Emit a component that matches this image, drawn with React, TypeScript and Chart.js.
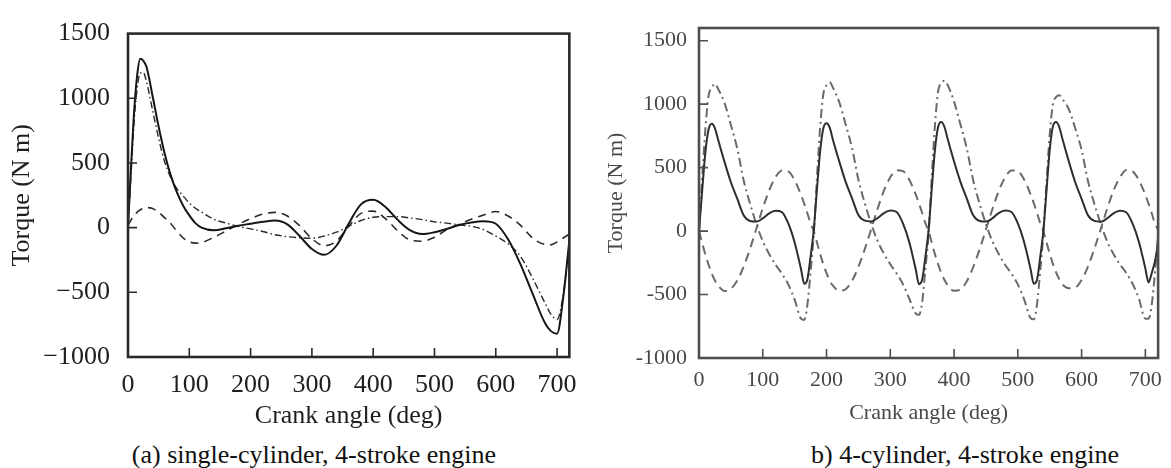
import React, { useEffect, useRef } from "react";
import { Chart, registerables } from "chart.js";

Chart.register(...registerables);

// ---------- shared ----------
const X_TICKS = [0, 100, 200, 300, 400, 500, 600, 700];
const Y_TICKS = [-1000, -500, 0, 500, 1000, 1500];
const X_TITLE = "Crank angle (deg)";
const Y_TITLE = "Torque (N m)";
const CAPTION_A = "(a) single-cylinder, 4-stroke engine";
const CAPTION_B = "b) 4-cylinder, 4-stroke engine";

// ---------- (a) single-cylinder ----------
const LEFT_ANGLES = [0, 5, 10, 15, 20, 25, 30, 40, 50, 60, 70, 80, 90, 100, 110, 120, 140, 160, 180, 200, 220, 240, 260, 280, 300, 320, 340, 360, 380, 400, 420, 440, 460, 480, 500, 520, 540, 560, 580, 600, 620, 640, 660, 680, 690, 700, 710, 720];
const LEFT_TOTAL = [10, 470, 900, 1180, 1305, 1290, 1245, 1020, 780, 570, 400, 270, 170, 95, 35, 0, -20, -5, 15, 30, 45, 55, 25, -65, -165, -210, -140, 30, 180, 215, 160, 60, -20, -50, -35, -10, 20, 40, 50, 30, -90, -280, -510, -735, -800, -820, -540, -100];
const LEFT_GAS = [0, 420, 820, 1080, 1195, 1200, 1130, 910, 690, 505, 385, 300, 245, 190, 150, 120, 65, 35, 10, -10, -30, -55, -70, -78, -82, -65, -35, 10, 55, 80, 85, 85, 75, 62, 45, 35, 22, 10, -15, -65, -125, -220, -390, -580, -670, -710, -520, -120];
const LEFT_INERTIA = [20, 60, 95, 120, 138, 150, 155, 148, 120, 75, 30, -30, -80, -110, -120, -115, -75, -25, 25, 70, 105, 118, 90, 15, -85, -140, -105, 10, 110, 128, 70, -25, -95, -105, -75, -15, 25, 65, 98, 125, 90, 20, -80, -130, -133, -110, -80, -50];

// ---------- (b) 4-cylinder ----------
const RIGHT_ANGLES = [
  0, 5, 10, 15, 20, 25, 30, 40, 50, 60, 70, 80, 90, 100, 110, 120, 130, 140, 150, 160, 165, 170, 175,
  180, 185, 190, 195, 200, 205, 210, 220, 230, 240, 250, 260, 270, 280, 290, 300, 310, 320, 330, 340, 345, 350, 355,
  360, 365, 370, 375, 380, 385, 390, 400, 410, 420, 430, 440, 450, 460, 470, 480, 490, 500, 510, 520, 525, 530, 535,
  540, 545, 550, 555, 560, 565, 570, 580, 590, 600, 610, 620, 630, 640, 650, 660, 670, 680, 690, 700, 705, 710, 715,
  720,
];
const RIGHT_TOTAL = [
  0, 320, 620, 800, 845, 810, 720, 545, 385, 255, 125, 80, 75, 100, 140, 160, 150, 60, -90, -300, -415, -380, -200,
  10, 330, 630, 810, 850, 815, 720, 548, 388, 258, 126, 82, 76, 102, 142, 162, 150, 58, -92, -305, -418, -382, -205,
  5, 330, 640, 820, 860, 820, 725, 548, 388, 256, 124, 80, 75, 100, 142, 162, 150, 60, -90, -300, -415, -385, -210,
  0, 320, 640, 825, 860, 820, 725, 548, 385, 254, 124, 80, 74, 100, 140, 160, 148, 58, -88, -295, -405, -330, -240,
  -100,
];
const RIGHT_GAS = [
  0, 415, 805, 1065, 1130, 1160, 1120, 1010, 835, 650, 400, 218, 55, -80, -180, -265, -335, -420, -540, -690, -700, -580, -320,
  -20, 420, 820, 1080, 1150, 1172, 1130, 1015, 840, 655, 405, 220, 58, -78, -178, -262, -335, -420, -535, -650, -660, -560, -300,
  -20, 420, 830, 1100, 1165, 1185, 1150, 1020, 840, 650, 400, 216, 55, -80, -180, -265, -335, -420, -540, -685, -695, -580, -320,
  -20, 380, 760, 1000, 1055, 1070, 1040, 960, 810, 640, 395, 215, 55, -80, -180, -262, -330, -415, -535, -690, -690, -580, -330,
  -20,
];
const RIGHT_INERTIA = [
  0, -95, -185, -265, -335, -390, -430, -472, -455, -390, -280, -140, 20, 180, 320, 425, 478, 470, 400, 285, 215, 140, 60,
  0, -90, -180, -262, -332, -388, -430, -470, -458, -392, -282, -142, 15, 175, 318, 424, 480, 472, 402, 288, 218, 142, 62,
  0, -92, -182, -262, -330, -386, -428, -470, -460, -395, -285, -145, 12, 172, 315, 422, 478, 472, 405, 290, 220, 145, 65,
  0, -90, -178, -258, -326, -380, -420, -450, -445, -385, -280, -140, 15, 175, 318, 422, 482, 470, 400, 285, 215, 140, 60,
  10,
];

const SERIF = "'Liberation Serif', 'Times New Roman', serif";

type Geo = {
  yMax: number;
  padTop: number;
  padRight: number;
  yWidth: number;
  xHeight: number;
  yPad: number;
  xPad: number;
  xTitlePad: number;
  yTitlePad: number;
  fontSize: number;
  textColor: string;
  minus: string;
  frameColor: string;
  frameWidth: number;
  tickLen: number;
};

function framePlugin(g: Geo) {
  return {
    id: "frameTicks",
    afterDatasetsDraw(chart: any) {
      const { ctx, chartArea } = chart;
      const { left, right, top, bottom } = chartArea;
      const xs = chart.scales.x;
      const ys = chart.scales.y;
      ctx.save();
      ctx.strokeStyle = g.frameColor;
      ctx.lineWidth = g.frameWidth;
      ctx.strokeRect(left, top, right - left, bottom - top);
      ctx.lineWidth = 1.6;
      ctx.beginPath();
      xs.ticks.forEach((t: any) => {
        const p = xs.getPixelForValue(t.value);
        if (p > left + 3 && p < right - 3) {
          ctx.moveTo(p, bottom);
          ctx.lineTo(p, bottom - g.tickLen);
        }
      });
      ys.ticks.forEach((t: any) => {
        const p = ys.getPixelForValue(t.value);
        if (p > top + 3 && p < bottom - 3) {
          ctx.moveTo(left, p);
          ctx.lineTo(left + g.tickLen, p);
        }
      });
      ctx.stroke();
      ctx.restore();
    },
  };
}

function buildConfig(
  g: Geo,
  angles: number[],
  series: { data: number[]; color: string; width: number; dash: number[] }[]
): any {
  const font = { family: SERIF, size: g.fontSize };
  const fmt = (v: number) => (v < 0 ? g.minus + Math.abs(v) : String(v));
  return {
    type: "line",
    data: {
      datasets: series.map((s) => ({
        data: angles.map((a, i) => ({ x: a, y: s.data[i] })),
        borderColor: s.color,
        borderWidth: s.width,
        borderDash: s.dash,
        pointRadius: 0,
        fill: false,
        cubicInterpolationMode: "monotone",
      })),
    },
    options: {
      responsive: true,
      maintainAspectRatio: false,
      animation: false,
      events: [],
      layout: { padding: { top: g.padTop, right: g.padRight, left: 0, bottom: 0 } },
      plugins: { legend: { display: false }, tooltip: { enabled: false } },
      scales: {
        x: {
          type: "linear",
          min: 0,
          max: 720,
          grid: { display: false, drawTicks: false },
          border: { display: false },
          afterBuildTicks: (s: any) => {
            s.ticks = X_TICKS.map((v) => ({ value: v }));
          },
          afterFit: (s: any) => {
            s.height = g.xHeight;
          },
          ticks: {
            autoSkip: false,
            maxRotation: 0,
            padding: g.xPad,
            font,
            color: g.textColor,
            callback: (v: any) => fmt(Number(v)),
          },
          title: {
            display: true,
            text: X_TITLE,
            font,
            color: g.textColor,
            padding: { top: 0, bottom: g.xTitlePad },
          },
        },
        y: {
          type: "linear",
          min: -1000,
          max: g.yMax,
          grid: { display: false, drawTicks: false },
          border: { display: false },
          afterBuildTicks: (s: any) => {
            s.ticks = Y_TICKS.map((v) => ({ value: v }));
          },
          afterFit: (s: any) => {
            s.width = g.yWidth;
          },
          ticks: {
            autoSkip: false,
            padding: g.yPad,
            font,
            color: g.textColor,
            callback: (v: any) => fmt(Number(v)),
          },
          title: {
            display: true,
            text: Y_TITLE,
            font,
            color: g.textColor,
            padding: { top: g.yTitlePad, bottom: 0 },
          },
        },
      },
    },
    plugins: [framePlugin(g)],
  };
}

const LEFT_GEO: Geo = {
  yMax: 1500,
  padTop: 24,
  padRight: 15,
  yWidth: 128,
  xHeight: 83,
  yPad: 18,
  xPad: 13,
  xTitlePad: 8,
  yTitlePad: 7,
  fontSize: 26,
  textColor: "#1e1e1e",
  minus: "\u2212",
  frameColor: "#2a2a2a",
  frameWidth: 2.6,
  tickLen: 9,
};

const RIGHT_GEO: Geo = {
  yMax: 1600,
  padTop: 28,
  padRight: 5,
  yWidth: 99,
  xHeight: 82,
  yPad: 12,
  xPad: 9,
  xTitlePad: 14,
  yTitlePad: 3,
  fontSize: 22,
  textColor: "#484848",
  minus: "-",
  frameColor: "#4e4e4e",
  frameWidth: 2.6,
  tickLen: 9,
};

function ChartBox(props: { left: number; top: number; width: number; height: number; build: () => any }) {
  const ref = useRef<HTMLCanvasElement | null>(null);
  useEffect(() => {
    if (!ref.current) return;
    const chart = new Chart(ref.current, props.build());
    return () => chart.destroy();
  }, []);
  return (
    <div style={{ position: "absolute", left: props.left, top: props.top, width: props.width, height: props.height }}>
      <canvas ref={ref} />
    </div>
  );
}

function Caption(props: { center: number; text: string }) {
  return (
    <div
      style={{
        position: "absolute",
        left: props.center - 260,
        width: 520,
        top: 440,
        lineHeight: "30px",
        fontSize: 26,
        fontFamily: SERIF,
        color: "#111",
        textAlign: "center",
        whiteSpace: "nowrap",
      }}
    >
      {props.text}
    </div>
  );
}

export default function App() {
  return (
    <div
      style={{
        position: "absolute",
        left: 0,
        top: 0,
        width: 1171,
        height: 468,
        background: "#fff",
        overflow: "hidden",
      }}
    >
      <ChartBox
        left={0}
        top={0}
        width={590}
        height={440}
        build={() =>
          buildConfig(LEFT_GEO, LEFT_ANGLES, [
            { data: LEFT_TOTAL, color: "#161616", width: 2, dash: [] },
            { data: LEFT_GAS, color: "#2a2a2a", width: 1.4, dash: [7, 3, 1.5, 3] },
            { data: LEFT_INERTIA, color: "#2a2a2a", width: 1.6, dash: [8, 6] },
          ])
        }
      />
      <ChartBox
        left={600}
        top={0}
        width={571}
        height={440}
        build={() =>
          buildConfig(RIGHT_GEO, RIGHT_ANGLES, [
            { data: RIGHT_TOTAL, color: "#2e2e2e", width: 2, dash: [] },
            { data: RIGHT_GAS, color: "#6a6a6a", width: 2, dash: [9, 4, 2, 4] },
            { data: RIGHT_INERTIA, color: "#6a6a6a", width: 2, dash: [9, 6] },
          ])
        }
      />
      <Caption center={314} text={CAPTION_A} />
      <Caption center={965} text={CAPTION_B} />
    </div>
  );
}
